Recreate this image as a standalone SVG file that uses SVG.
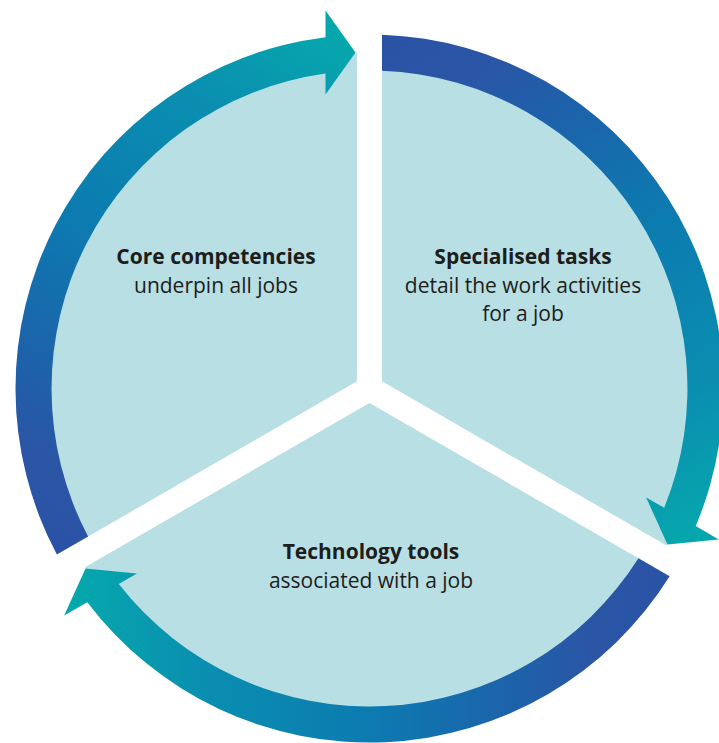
<svg xmlns="http://www.w3.org/2000/svg" width="719" height="743" viewBox="0 0 719 743">
<defs>
<linearGradient id="bandGrad" gradientUnits="userSpaceOnUse" x1="12" y1="-336" x2="298" y2="156">
<stop offset="0" stop-color="#2b53a5"/>
<stop offset="0.12" stop-color="#2a56a6"/>
<stop offset="0.25" stop-color="#1d62aa"/>
<stop offset="0.5" stop-color="#0c7bb0"/>
<stop offset="0.8" stop-color="#0a8fb0"/>
<stop offset="1" stop-color="#06a6ad"/>
</linearGradient>
<path id="sector" d="M12.5,-7.217 L12.5,-335.77 A336,336 0 0 1 297.03,157.06 Z"/>
<path id="band" d="M12.5,-353.78 A354,354 0 0 1 326.2,137.55 L349.35,150.9 L297.98,155.88 L276.6,108.9 L294.7,119.35 A318,318 0 0 0 12.5,-317.75 Z"/>
</defs>
<style>
.sec{fill:#b8dfe3}
.band{fill:url(#bandGrad)}
.t{font-family:"Open Sans","Noto Sans","Liberation Sans",sans-serif;font-size:21px;fill:#1d1d1b;text-anchor:middle}
.b{font-weight:bold}
</style>
<rect width="719" height="743" fill="#ffffff"/>
<g id="specialised-tasks">
<use href="#sector" class="sec" transform="translate(369.5,388.5)"/>
<text class="t b" x="523" y="264">Specialised tasks</text>
<text class="t" x="523" y="293">detail the work activities</text>
<text class="t" x="523" y="321">for a job</text>
</g>
<g id="technology-tools">
<use href="#sector" class="sec" transform="translate(369.5,388.5) rotate(120)"/>
<text class="t b" x="371" y="559">Technology tools</text>
<text class="t" x="371" y="588">associated with a job</text>
</g>
<g id="core-competencies">
<use href="#sector" class="sec" transform="translate(369.5,388.5) rotate(240)"/>
<text class="t b" x="216" y="264">Core competencies</text>
<text class="t" x="216" y="293">underpin all jobs</text>
</g>
<g id="connectors">
<use href="#band" class="band" transform="translate(369.5,388.5)"/>
<use href="#band" class="band" transform="translate(369.5,388.5) rotate(120)"/>
<use href="#band" class="band" transform="translate(369.5,388.5) rotate(240)"/>
</g>
</svg>
